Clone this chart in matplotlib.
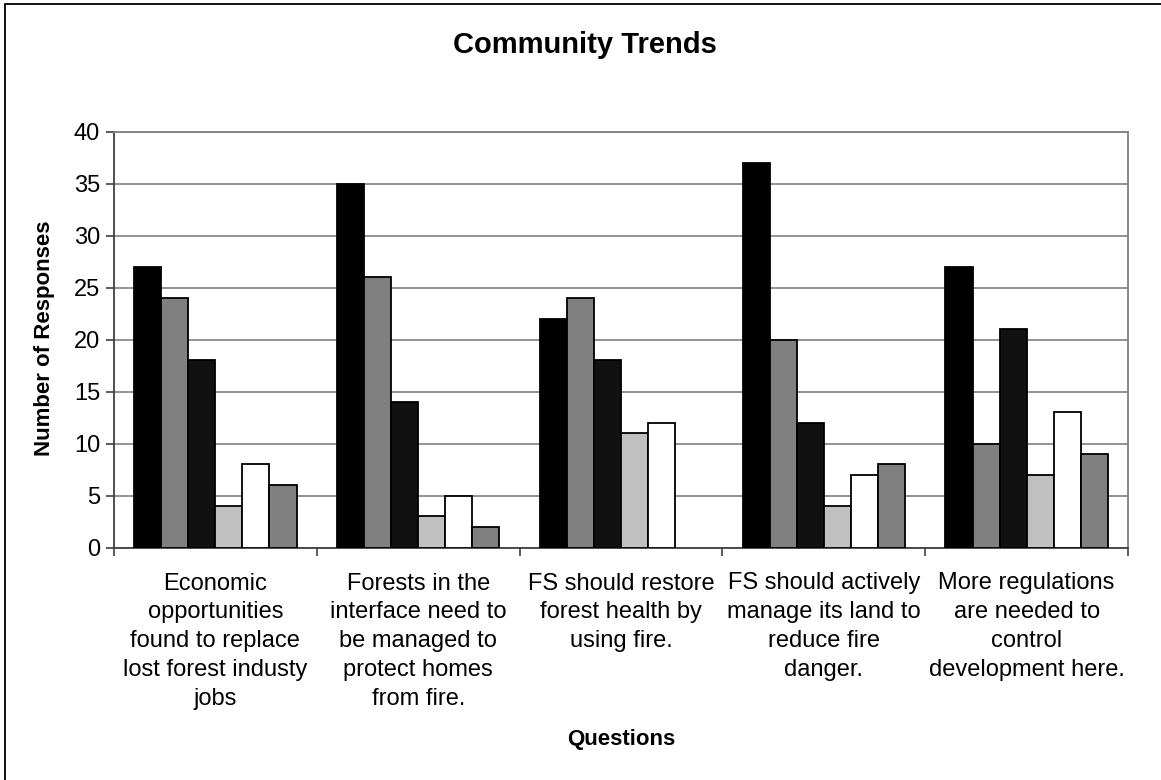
import numpy as np
import matplotlib
matplotlib.use("Agg")
import matplotlib.pyplot as plt
from matplotlib.patches import Rectangle

plt.rcParams['font.family'] = ['Liberation Sans', 'DejaVu Sans']

questions = [
    "Economic\nopportunities\nfound to replace\nlost forest industy\njobs",
    "Forests in the\ninterface need to\nbe managed to\nprotect homes\nfrom fire.",
    "FS should restore\nforest health by\nusing fire.",
    "FS should actively\nmanage its land to\nreduce fire\ndanger.",
    "More regulations\nare needed to\ncontrol\ndevelopment here.",
]
# one list per response series (6 series, 5 questions)
s1 = [27, 35, 22, 37, 27]
s2 = [24, 26, 24, 20, 10]
s3 = [18, 14, 18, 12, 21]
s4 = [4, 3, 11, 4, 7]
s5 = [8, 5, 12, 7, 13]
s6 = [6, 2, 0, 8, 9]
series = [s1, s2, s3, s4, s5, s6]
colors = ['#000000', '#808080', '#111111', '#c0c0c0', '#ffffff', '#808080']

fig = plt.figure(figsize=(11.61, 7.8), dpi=100)
ax = fig.add_axes([114/1161, 1-547.5/780, 1014/1161, 416/780])

x = np.arange(len(questions))
w = 1/7.5
for j, vals in enumerate(series):
    edges = ['black' if v > 0 else 'none' for v in vals]  # zero bars show nothing
    ax.bar(x + (j - 2.5)*w, vals, width=w, color=colors[j],
           edgecolor=edges, linewidth=1.3, zorder=3)

ax.set_xlim(-0.5, 4.5)
ax.set_ylim(0, 40)
ax.set_yticks(np.arange(0, 41, 5))
ax.yaxis.grid(True, color='#808080', linewidth=1.2, zorder=0)
ax.set_axisbelow(True)

ax.set_xticks(x)
ax.set_xticklabels(questions, fontsize=17, linespacing=1.4)
ax.set_xticks(np.arange(-0.5, 5, 1), minor=True)
ax.tick_params(axis='x', which='major', length=0, pad=18)
ax.tick_params(axis='x', which='minor', length=6, width=1.2, direction='out', color='#404040')
ax.tick_params(axis='y', length=6, width=1.2, direction='out', labelsize=17, pad=4, color='#404040')

for s in ['left', 'bottom']:
    ax.spines[s].set_color('#404040')
    ax.spines[s].set_linewidth(1.3)
for s in ['top', 'right']:
    ax.spines[s].set_color('#808080')
    ax.spines[s].set_linewidth(1.3)

fig.text(585/1161, 1-45/780, "Community Trends", fontsize=21, fontweight='bold',
         ha='center', va='center')
fig.text(45/1161, 1-338/780, "Number of Responses", fontsize=16, fontweight='bold',
         ha='center', va='center', rotation=90)
fig.text(621/1161, 1-740/780, "Questions", fontsize=16, fontweight='bold',
         ha='center', va='center')

# outer chart border (clipped at right/bottom like the source)
fig.patches.append(Rectangle((5/1161, -0.1), 1.2, 1-4/780+0.1, transform=fig.transFigure,
                             fill=False, edgecolor='black', linewidth=1.3))

fig.savefig("out.png", dpi=100)
